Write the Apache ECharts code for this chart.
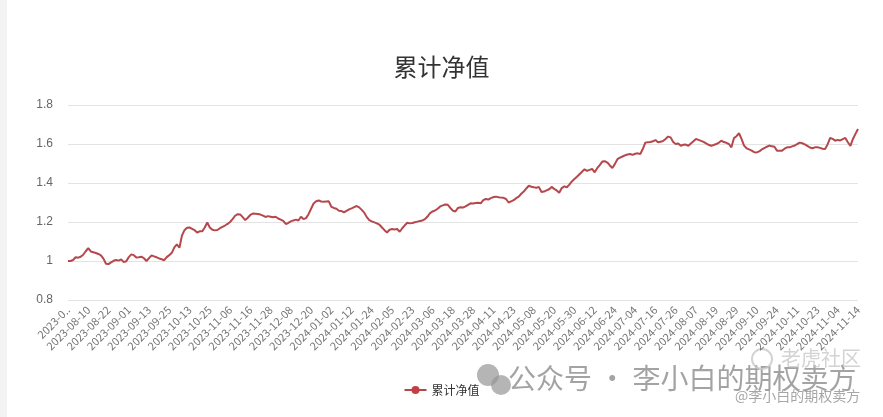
<!DOCTYPE html>
<html>
<head>
<meta charset="utf-8">
<script src="https://cdn.jsdelivr.net/npm/echarts@6/dist/echarts.min.js"></script>
<style>html,body{margin:0;padding:0;background:#fff;}#c{width:883px;height:417px;}</style>
</head>
<body>
<div id="c"></div>
<script>
// Trading calendar (SSE) from 2023-07-31 to 2024-11-14
var startDate = '2023-07-31';
var endDate = '2024-11-14';
var closedDays = ['2023-09-29','2023-10-02','2023-10-03','2023-10-04','2023-10-05','2023-10-06',
  '2024-01-01','2024-02-09','2024-02-12','2024-02-13','2024-02-14','2024-02-15','2024-02-16',
  '2024-04-04','2024-04-05','2024-05-01','2024-05-02','2024-05-03','2024-06-10',
  '2024-09-16','2024-09-17','2024-10-01','2024-10-02','2024-10-03','2024-10-04','2024-10-07'];

var navValues = [
1.000,1.000,1.005,1.019,1.017,1.022,1.032,1.050,1.066,1.049,
1.045,1.041,1.036,1.029,1.012,0.986,0.984,0.993,1.001,1.005,
1.002,1.008,0.994,0.999,1.020,1.034,1.030,1.018,1.019,1.022,
1.014,1.000,1.015,1.029,1.024,1.019,1.013,1.009,1.004,1.020,
1.030,1.042,1.070,1.085,1.068,1.130,1.158,1.170,1.172,1.165,
1.158,1.146,1.152,1.152,1.172,1.197,1.172,1.160,1.157,1.159,
1.168,1.175,1.182,1.190,1.200,1.215,1.232,1.240,1.239,1.225,
1.210,1.222,1.236,1.243,1.242,1.241,1.238,1.233,1.226,1.230,
1.227,1.224,1.227,1.218,1.212,1.206,1.190,1.195,1.203,1.208,
1.212,1.208,1.227,1.215,1.220,1.240,1.268,1.295,1.306,1.310,
1.305,1.304,1.305,1.306,1.278,1.272,1.268,1.258,1.256,1.250,
1.257,1.265,1.270,1.276,1.282,1.275,1.262,1.248,1.225,1.210,
1.203,1.198,1.193,1.186,1.172,1.158,1.146,1.160,1.164,1.162,
1.164,1.150,1.168,1.183,1.196,1.193,1.195,1.199,1.202,1.205,
1.208,1.215,1.228,1.246,1.254,1.260,1.268,1.280,1.285,1.290,
1.288,1.272,1.258,1.254,1.272,1.276,1.274,1.280,1.288,1.296,
1.295,1.297,1.299,1.296,1.312,1.318,1.315,1.322,1.328,1.330,
1.327,1.325,1.324,1.318,1.300,1.306,1.312,1.322,1.330,1.345,
1.356,1.372,1.386,1.381,1.378,1.376,1.379,1.354,1.356,1.362,
1.368,1.380,1.370,1.362,1.350,1.374,1.383,1.378,1.392,1.408,
1.420,1.432,1.445,1.458,1.470,1.462,1.467,1.472,1.455,1.476,
1.492,1.510,1.512,1.505,1.490,1.477,1.498,1.522,1.530,1.536,
1.542,1.546,1.549,1.544,1.550,1.552,1.549,1.574,1.607,1.609,
1.610,1.614,1.620,1.609,1.612,1.615,1.626,1.638,1.634,1.610,
1.600,1.603,1.591,1.596,1.597,1.591,1.603,1.614,1.626,1.621,
1.616,1.611,1.603,1.596,1.591,1.595,1.600,1.606,1.617,1.610,
1.606,1.600,1.583,1.630,1.640,1.655,1.626,1.592,1.578,1.572,
1.566,1.558,1.557,1.562,1.572,1.579,1.586,1.592,1.588,1.586,
1.566,1.566,1.566,1.576,1.583,1.583,1.588,1.592,1.600,1.607,
1.604,1.598,1.590,1.582,1.578,1.583,1.583,1.580,1.576,1.574,
1.598,1.631,1.626,1.617,1.621,1.618,1.625,1.631,1.609,1.590,
1.626,1.652,1.677
];

var yTicks = [0.8, 1.8, 0.2]; // min, max, interval
var titleText = '累计净值';
var seriesName = '累计净值';

function pad(n){return n<10?'0'+n:''+n;}
var dates = [];
(function(){
  var d = new Date(startDate + 'T00:00:00Z');
  var e = new Date(endDate + 'T00:00:00Z');
  while (d <= e) {
    var wd = d.getUTCDay();
    var s = d.getUTCFullYear() + '-' + pad(d.getUTCMonth()+1) + '-' + pad(d.getUTCDate());
    if (wd !== 0 && wd !== 6 && closedDays.indexOf(s) < 0) dates.push(s);
    d = new Date(d.getTime() + 86400000);
  }
})();

var chart = echarts.init(document.getElementById('c'), null, {renderer: 'canvas'});
chart.setOption({
  backgroundColor: '#fff',
  animation: false,
  title: {
    text: titleText, left: 'center', top: 50,
    textStyle: {fontSize: 24, fontWeight: 'normal', color: '#333', fontFamily: 'Noto Sans CJK SC'}
  },
  legend: {
    bottom: 16, left: 'center',
    itemWidth: 22, itemHeight: 10,
    textStyle: {fontSize: 12, color: '#333', fontFamily: 'Noto Sans CJK SC'},
    data: [seriesName]
  },
  grid: {left: 68, right: 25, top: 105, bottom: 117, containLabel: false},
  xAxis: {
    type: 'category', data: dates, boundaryGap: false,
    axisLine: {show: false}, axisTick: {show: false},
    axisLabel: {
      interval: 7, rotate: 45, fontSize: 11, color: '#777', margin: 8,
      fontFamily: 'Noto Sans CJK SC',
      formatter: function(v, i){ return i === 0 ? v.slice(0,6) + '..' : v; }
    }
  },
  yAxis: {
    type: 'value', min: yTicks[0], max: yTicks[1], interval: yTicks[2],
    axisLine: {show: false}, axisTick: {show: false},
    axisLabel: {fontSize: 12, color: '#666', margin: 15},
    splitLine: {lineStyle: {color: '#e3e3e3', width: 1}}
  },
  series: [{
    name: seriesName, type: 'line', data: navValues,
    symbol: 'circle', symbolSize: 7, showSymbol: false,
    itemStyle: {color: '#c23f45'},
    lineStyle: {color: '#b5484c', width: 2}
  }],
  graphic: [
    {type: 'rect', shape: {x: 0, y: 0, width: 7, height: 417}, style: {fill: '#f3f3f3'}},
    {type: 'circle', shape: {cx: 488, cy: 375, r: 11}, style: {fill: 'rgba(150,150,150,0.7)'}},
    {type: 'circle', shape: {cx: 501, cy: 385, r: 10}, style: {fill: 'rgba(150,150,150,0.7)'}},
    {type: 'text', left: 508, top: 364, style: {text: '公众号 · 李小白的期权卖方', fontSize: 28, fill: 'rgba(140,140,140,0.8)', fontFamily: 'Noto Sans CJK SC'}},
    {type: 'circle', shape: {cx: 762, cy: 359, r: 10}, style: {fill: 'none', stroke: 'rgba(200,200,200,0.8)', lineWidth: 2}},
    {type: 'text', left: 781, top: 348, style: {text: '老虎社区', fontSize: 20, fill: 'rgba(200,200,200,0.8)', fontFamily: 'Noto Sans CJK SC'}},
    {type: 'text', left: 735, top: 389, style: {text: '@李小白的期权卖方', fontSize: 14, fill: 'rgba(150,150,150,0.85)', fontFamily: 'Noto Sans CJK SC'}}
  ]
});
</script>
</body>
</html>
